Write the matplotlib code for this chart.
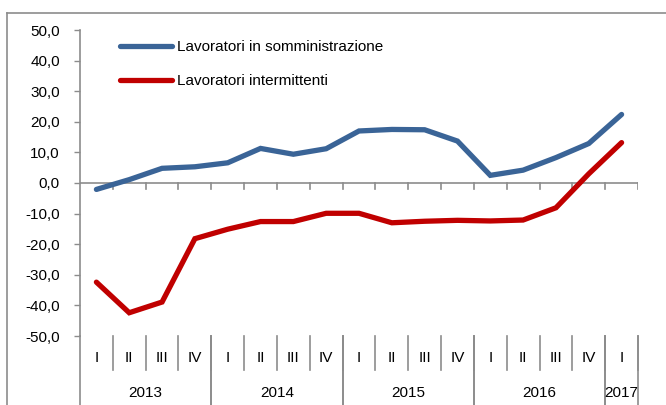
import matplotlib
matplotlib.use("Agg")
import matplotlib.pyplot as plt
from matplotlib.lines import Line2D

plt.rcParams['font.family'] = ['Liberation Sans', 'DejaVu Sans']

quarters = ["I", "II", "III", "IV"] * 4 + ["I"]
years = ["2013", "2014", "2015", "2016", "2017"]
year_counts = [4, 4, 4, 4, 1]
somministrazione = [-2.1, 1.1, 4.8, 5.3, 6.6, 11.3, 9.4, 11.2, 17.0, 17.5, 17.4, 13.7,
                    2.5, 4.2, 8.3, 12.9, 22.4]
intermittenti = [-32.4, -42.4, -38.9, -18.2, -15.1, -12.6, -12.6, -9.9, -9.9, -13.0,
                 -12.5, -12.2, -12.4, -12.1, -8.1, 3.0, 13.2]
series_names = ["Lavoratori in somministrazione", "Lavoratori intermittenti"]
colors = ["#3A6497", "#C00000"]
yticks = [-50, -40, -30, -20, -10, 0, 10, 20, 30, 40, 50]

W, H = 666, 405
FS = 11
fig = plt.figure(figsize=(W / 100, H / 100), dpi=100)
grey = "#8C8C8C"

# outer frame (extends beyond image right and bottom)
fig.add_artist(Line2D([7 / W, 1.0], [1 - 13 / H, 1 - 13 / H], transform=fig.transFigure,
                      color=grey, lw=1.2))
fig.add_artist(Line2D([7 / W, 7 / W], [0, 1 - 13 / H], transform=fig.transFigure,
                      color=grey, lw=1.2))

ax = fig.add_axes([80 / W, 1 - 336 / H, (638 - 80) / W, (336 - 30) / H])
n = len(quarters)
xs = [i + 0.5 for i in range(n)]
ax.plot(xs, somministrazione, color=colors[0], lw=3.8, solid_capstyle='round',
        solid_joinstyle='miter', label=series_names[0], zorder=3)
ax.plot(xs, intermittenti, color=colors[1], lw=3.8, solid_capstyle='round',
        solid_joinstyle='miter', label=series_names[1], zorder=3)

ax.set_xlim(0, n)
ax.set_ylim(-50, 50)
ax.set_yticks(yticks)
ax.set_yticklabels([f"{v:.1f}".replace(".", ",") for v in yticks])
ax.tick_params(axis='y', direction='out', length=4.5, width=1, color=grey, pad=10,
               labelsize=FS, labelcolor="black")
ax.set_xticks([])
for s in ["top", "right", "bottom"]:
    ax.spines[s].set_visible(False)
ax.spines["left"].set_color(grey)
ax.spines["left"].set_linewidth(1.2)

# zero line with downward ticks
ax.axhline(0, color=grey, lw=1.2, zorder=1)
for k in range(1, n + 1):
    ax.plot([k, k], [0, -2.0], color=grey, lw=1.2, zorder=1)

# category axis below
trans = ax.get_xaxis_transform()
q_bot = -34 / 306
y_bot = -75 / 306
for k in range(1, n + 1):
    ax.plot([k, k], [0, q_bot], color=grey, lw=1.2, transform=trans, clip_on=False)
for i, q in enumerate(quarters):
    ax.text(i + 0.5, -22 / 306, q, transform=trans, ha='center', va='center', fontsize=FS)
start = 0
for yname, c in zip(years, year_counts):
    end = start + c
    ax.plot([start, start], [0, y_bot], color=grey, lw=1.2, transform=trans, clip_on=False)
    ax.plot([end, end], [0, y_bot], color=grey, lw=1.2, transform=trans, clip_on=False)
    ax.text((start + end) / 2, -57 / 306, yname, transform=trans, ha='center', va='center',
            fontsize=FS)
    start = end

leg = ax.legend(loc='upper left', bbox_to_anchor=(120 / W, 1 - 40 / H),
                bbox_transform=fig.transFigure, frameon=False, fontsize=FS,
                handlelength=3.4, handletextpad=0.35, labelspacing=1.3, borderpad=0,
                borderaxespad=0)

fig.savefig("out.png", dpi=100)
